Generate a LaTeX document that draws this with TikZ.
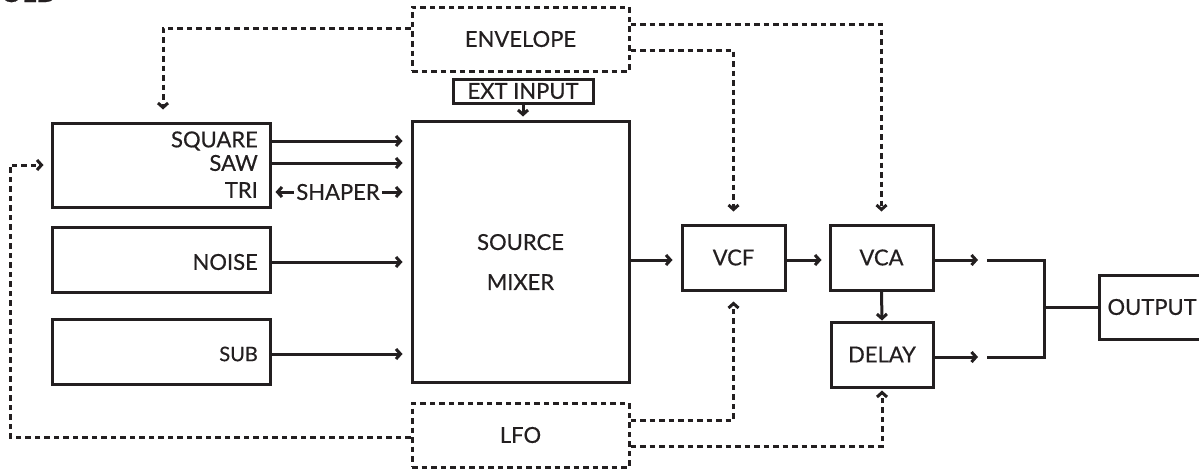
\documentclass[tikz,border=0pt]{standalone}
\usepackage{fontspec}
\setmainfont{Lato}[FakeBold=0.5]
\usetikzlibrary{arrows.meta,positioning}
\definecolor{ink}{HTML}{231F20}

\begin{document}
\begin{tikzpicture}[x=1pt,y=-1pt,
    font=\fontsize{22}{26}\selectfont, text=ink,
    box/.style={draw=ink, line width=3pt, inner sep=0pt},
    dbox/.style={box, dash pattern=on 5.5pt off 4pt},
    wire/.style={draw=ink, line width=3pt, -{Straight Barb[length=4.5pt,width=10pt]}},
    dwire/.style={wire, dash pattern=on 5.5pt off 4pt},
    link/.style={draw=ink, line width=3pt}]
    \useasboundingbox (0,0) rectangle (1199,471);

    \node[anchor=base west, font=\fontsize{27}{27}\selectfont\bfseries] (title) at (-3,2) {OLD};

    % control sources
    \node[dbox, minimum width=217pt, minimum height=64pt] (env) at (520.5,39) {ENVELOPE};
    \node[dbox, minimum width=217pt, minimum height=64pt] (lfo) at (520.5,435) {LFO};

    % oscillators
    \node[box, minimum width=218pt, minimum height=84pt] (osc) at (161,165) {};
    \node[anchor=east, inner sep=0pt] (sq) at (258,141) {SQUARE};
    \node[anchor=east, inner sep=0pt] (saw) at (258,163) {SAW};
    \node[anchor=east, inner sep=0pt] (tri) at (258,190) {TRI};
    \node[box, minimum width=218pt, minimum height=65pt] (noise) at (161,259.5) {};
    \node[anchor=east, inner sep=0pt] (noi) at (258,262) {NOISE};
    \node[box, minimum width=218pt, minimum height=65pt] (sub) at (161,351.5) {};
    \node[anchor=east, inner sep=0pt, font=\fontsize{20}{22}\selectfont] (sb) at (258,354) {SUB};

    % mixer and signal chain
    \node[box, minimum width=140pt, minimum height=24pt] (ext) at (523,91) {EXT INPUT};
    \node[box, minimum width=217pt, minimum height=261pt] (mix) at (520.5,251.5) {};
    \node[align=center, font=\fontsize{22}{40}\selectfont] (mixtxt) at (520.5,262) {SOURCE\\MIXER};
    \node[box, minimum width=103pt, minimum height=65pt] (vcf) at (733.5,257.5) {VCF};
    \node[box, minimum width=103pt, minimum height=65pt] (vca) at (881.5,257.5) {VCA};
    \node[box, minimum width=102pt, minimum height=65pt] (delay) at (882,354.5) {DELAY};
    \node[box, minimum width=99pt, minimum height=64pt, anchor=west, text width=90pt, align=left, inner xsep=8pt] (out) at (1098,307) {OUTPUT};
    \node[inner sep=2pt] (shp) at (338,192) {SHAPER};

    \coordinate (j1) at (987,260);
    \coordinate (j2) at (987,357);
    \coordinate (jm) at (1044,307);
    \coordinate (lfoc) at (10,165);

    \draw[wire, shorten >=8pt] (sq -| osc.east) -- (sq -| mix.west);
    \draw[wire, shorten >=8pt] (saw -| osc.east) -- (saw -| mix.west);
    \draw[wire, shorten >=4pt] (shp.west) -- (shp.west -| osc.east);
    \draw[wire, shorten >=8pt] (shp.east) -- (shp.east -| mix.west);
    \draw[wire, shorten >=8pt] (noi -| noise.east) -- (noi -| mix.west);
    \draw[wire, shorten >=8pt] (sb -| sub.east) -- (sb -| mix.west);
    \draw[wire, shorten >=3pt] (ext.south) -- (ext.south |- mix.north);
    \draw[wire, shorten >=8pt] (mix.east |- 0,260) -- (vcf.west |- 0,260);
    \draw[wire, shorten >=7pt] (vcf.east |- 0,260) -- (vca.west |- 0,260);
    \draw[wire] (vca.south) -- (delay.north);
    \draw[wire, shorten >=9pt] (vca.east |- j1) -- (j1);
    \draw[wire, shorten >=9pt] (delay.east |- j2) -- (j2);
    \draw[link] (j1) -| (jm) |- (j2);
    \draw[link] (jm) -- (out.west);

    % modulation
    \draw[dwire, shorten >=12pt] (env.west |- 0,28) -| ([xshift=2pt]osc.north);
    \draw[dwire, shorten >=12pt] (env.east |- 0,50) -| (vcf.north);
    \draw[dwire, shorten >=12pt] (env.east |- 0,24) -| (vca.north);
    \draw[dwire, shorten >=7pt] (lfo.west |- 0,437) -| (lfoc) -- (lfoc -| osc.west);
    \draw[dwire, shorten >=10pt] (lfo.east |- 0,420) -| (vcf.south);
    \draw[dwire, shorten >=2pt] (lfo.east |- 0,446) -| (delay.south);
\end{tikzpicture}
\end{document}
